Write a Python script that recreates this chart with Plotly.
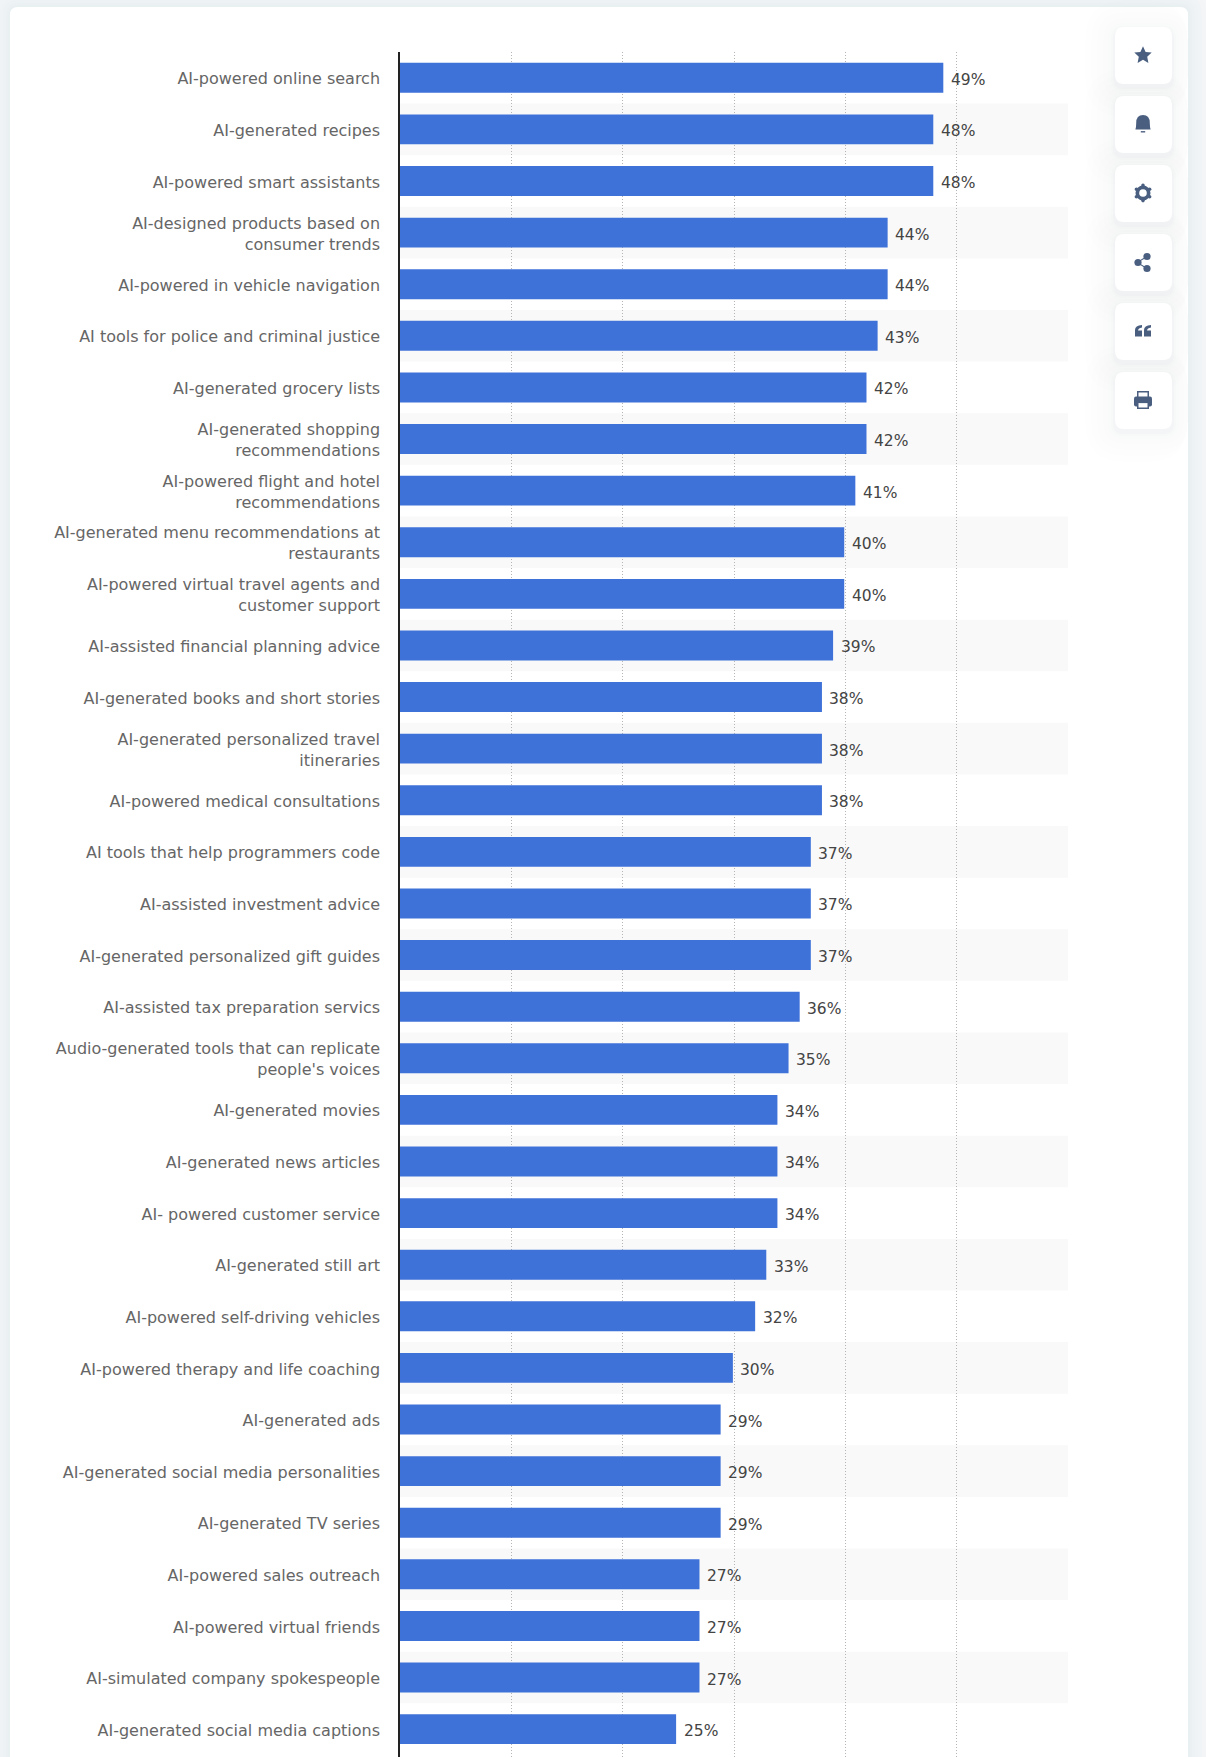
import plotly.graph_objects as go

W, H = 1206, 1757
PLOT_L, PLOT_R, PLOT_T = 400, 1068, 52

categories = [
    "AI-powered online search", "AI-generated recipes", "AI-powered smart assistants",
    "AI-designed products based on<br>consumer trends", "AI-powered in vehicle navigation",
    "AI tools for police and criminal justice", "AI-generated grocery lists",
    "AI-generated shopping<br>recommendations", "AI-powered flight and hotel<br>recommendations",
    "AI-generated menu recommendations at<br>restaurants",
    "AI-powered virtual travel agents and<br>customer support",
    "AI-assisted financial planning advice", "AI-generated books and short stories",
    "AI-generated personalized travel<br>itineraries", "AI-powered medical consultations",
    "AI tools that help programmers code", "AI-assisted investment advice",
    "AI-generated personalized gift guides", "AI-assisted tax preparation servics",
    "Audio-generated tools that can replicate<br>people's voices", "AI-generated movies",
    "AI-generated news articles", "AI- powered customer service", "AI-generated still art",
    "AI-powered self-driving vehicles", "AI-powered therapy and life coaching",
    "AI-generated ads", "AI-generated social media personalities", "AI-generated TV series",
    "AI-powered sales outreach", "AI-powered virtual friends",
    "AI-simulated company spokespeople", "AI-generated social media captions",
]
# labels round these to whole percent
values = [
    48.8, 47.9, 47.9, 43.8, 43.8, 42.9, 41.9, 41.9, 40.9, 39.9, 39.9, 38.9, 37.9, 37.9, 37.9,
    36.9, 36.9, 36.9, 35.9, 34.9, 33.9, 33.9, 33.9, 32.9, 31.9, 29.9, 28.8, 28.8, 28.8,
    26.9, 26.9, 26.9, 24.8,
]
x_ticks = [0, 10, 20, 30, 40, 50, 60]

BAR_BLUE = "#3f72d8"
ICON = "#4a5f80"
FONT = "DejaVu Sans, sans-serif"


def px(x):
    return (x - PLOT_L) / (PLOT_R - PLOT_L)


def py(y):
    return 1 - (y - PLOT_T) / (H - PLOT_T)


def round_rect(x0, y0, x1, y1, r):
    return (
        f"M{px(x0 + r)},{py(y0)} L{px(x1 - r)},{py(y0)} Q{px(x1)},{py(y0)} {px(x1)},{py(y0 + r)} "
        f"L{px(x1)},{py(y1 - r)} Q{px(x1)},{py(y1)} {px(x1 - r)},{py(y1)} "
        f"L{px(x0 + r)},{py(y1)} Q{px(x0)},{py(y1)} {px(x0)},{py(y1 - r)} "
        f"L{px(x0)},{py(y0 + r)} Q{px(x0)},{py(y0)} {px(x0 + r)},{py(y0)} Z"
    )


def panel(x0, y0, x1, y1, r, fill, layer="below"):
    return dict(type="path", xref="paper", yref="paper", path=round_rect(x0, y0, x1, y1, r),
                fillcolor=fill, line_width=0, layer=layer)


def icon_path(points, cx, cy):
    """Turn icon outline commands, given as offsets from the icon centre, into a paper path."""
    out = []
    for cmd in points:
        if cmd == "Z":
            out.append("Z")
        else:
            c, *xy = cmd
            pairs = [f"{px(cx + xy[k])},{py(cy + xy[k + 1])}" for k in range(0, len(xy), 2)]
            out.append(c + " ".join(pairs))
    return dict(type="path", xref="paper", yref="paper", path=" ".join(out),
                fillcolor=ICON, line_width=0, layer="above")


def circle(cx, cy, r, fill=ICON):
    return dict(type="circle", xref="paper", yref="paper", x0=px(cx - r), x1=px(cx + r),
                y0=py(cy + r), y1=py(cy - r), fillcolor=fill, line_width=0, layer="above")


def rect(x0, y0, x1, y1, fill=ICON):
    return dict(type="rect", xref="paper", yref="paper", x0=px(x0), x1=px(x1),
                y0=py(y1), y1=py(y0), fillcolor=fill, line_width=0, layer="above")


shapes = []

# white card with a soft shadow
for grow in [18, 14, 10, 7, 4, 2]:
    shapes.append(panel(10 - grow, 7 - grow, 1188 + grow, H + 30, 8 + grow, "rgba(60,70,100,0.009)"))
shapes.append(panel(10, 7, 1188, H + 30, 8, "white"))

# alternating row bands
for i in range(1, len(categories), 2):
    shapes.append(dict(type="rect", xref="x", yref="y", x0=0, x1=x_ticks[-1], y0=i - 0.5, y1=i + 0.5,
                       fillcolor="#f9f9f9", line_width=0, layer="below"))

# toolbar buttons, each with a wide faint shadow
button_tops = [27, 96, 165, 234, 303, 372]
for top in button_tops:
    for grow, alpha in [(30, 0.003), (24, 0.003), (18, 0.004), (12, 0.004), (7, 0.006), (4, 0.01), (2, 0.016)]:
        shapes.append(panel(1115 - grow, top - grow + 3, min(1172 + grow, 1188), top + 57 + grow + 3, 9 + grow,
                            f"rgba(60,70,100,{alpha})", layer="above"))
for top in button_tops:
    shapes.append(panel(1115, top, 1172, top + 57, 9, "white", layer="above"))

cx = 1143
cy = [t + 28.5 for t in button_tops]

# star
star = [("M", 0, -8.7), ("L", 2.6, -3), ("L", 8.7, -2.4), ("L", 4.2, 1.8), ("L", 5.4, 8), ("L", 0, 4.8),
        ("L", -5.4, 8), ("L", -4.2, 1.8), ("L", -8.7, -2.4), ("L", -2.6, -3), "Z"]
shapes.append(icon_path(star, cx, cy[0] - 0.5))

# bell
bell = [("M", 0, -9), ("Q", 6.8, -9, 6.8, -1), ("Q", 6.8, 3, 7.6, 5.5), ("L", -7.6, 5.5),
        ("Q", -6.8, 3, -6.8, -1), ("Q", -6.8, -9, 0, -9), "Z"]
shapes.append(icon_path(bell, cx, cy[1] - 0.5))
shapes.append(rect(cx - 2.2, cy[1] + 6.6, cx + 2.2, cy[1] + 8))

# gear
shapes.append(circle(cx, cy[2] - 0.5, 7.5))
for dx, dy in [(0, -7.6), (0, 7.6), (-6.6, -3.8), (6.6, -3.8), (-6.6, 3.8), (6.6, 3.8)]:
    shapes.append(circle(cx + dx, cy[2] - 0.5 + dy, 1.8))
shapes.append(circle(cx, cy[2] - 0.5, 3.8, "white"))

# share
for dx, dy in [(-5, 0), (4, -6), (4, 6)]:
    shapes.append(circle(cx + dx, cy[3] + dy, 3.6))
shapes.append(icon_path([("M", -5, -1), ("L", 4, -6.8), ("L", 4, -5.2), ("L", -5, 0), ("L", 4, 5.2), ("L", 4, 6.8),
                         ("L", -5, 1), "Z"], cx, cy[3]))

# quote
for dx in (-8, 1):
    shapes.append(icon_path([("M", dx, 5.5), ("L", dx, -1), ("Q", dx, -5.5, dx + 7, -6), ("L", dx + 7, -3.5),
                             ("Q", dx + 3.2, -3, dx + 3, -0.5), ("L", dx + 7, -0.5), ("L", dx + 7, 5.5), "Z"],
                            cx, cy[4] - 0.5))

# printer
shapes.append(panel(cx - 9, cy[5] - 4, cx + 9, cy[5] + 6, 2, ICON, layer="above"))
shapes.append(rect(cx - 6, cy[5] - 9.5, cx + 6, cy[5] - 2))
shapes.append(rect(cx - 4.5, cy[5] - 8, cx + 4.5, cy[5] - 4, "white"))
shapes.append(rect(cx - 6, cy[5] + 1, cx + 6, cy[5] + 8.5))
shapes.append(rect(cx - 4.5, cy[5] + 2.6, cx + 4.5, cy[5] + 7, "white"))

fig = go.Figure(go.Bar(
    x=values,
    y=categories,
    orientation="h",
    width=0.58,
    marker=dict(color=BAR_BLUE, line_width=0),
))

# value labels sit a little below the bar centre, so annotations rather than bar text
annotations = [
    dict(x=v, y=c, xref="x", yref="y", text=f"{v:.0f}%", showarrow=False, xanchor="left", xshift=5.5, yshift=-2,
         font=dict(family=FONT, size=15.5, color="#444444"))
    for v, c in zip(values, categories)
]

fig.update_layout(
    width=W,
    height=H,
    margin=dict(l=PLOT_L, r=W - PLOT_R, t=PLOT_T, b=0, pad=0, autoexpand=False),
    paper_bgcolor="#f5f6f8",
    plot_bgcolor="rgba(0,0,0,0)",
    showlegend=False,
    shapes=shapes,
    annotations=annotations,
    font=dict(family=FONT),
    xaxis=dict(range=[0, x_ticks[-1]], tickvals=x_ticks, showticklabels=False, showgrid=True,
               gridcolor="#b5b5b5", griddash="1px,2px", gridwidth=1, zeroline=False, showline=False, ticks=""),
    yaxis=dict(range=[32.54, -0.5], type="category", showline=True, linecolor="#222222", linewidth=1.5,
               ticks="outside", ticklen=15, tickcolor="rgba(0,0,0,0)", showgrid=False, ticklabelshift=-1,
               tickfont=dict(family=FONT, size=16, color="#666666")),
)

fig.write_html("out.html", post_script="document.body.style.margin='0';", config={"displayModeBar": False})
